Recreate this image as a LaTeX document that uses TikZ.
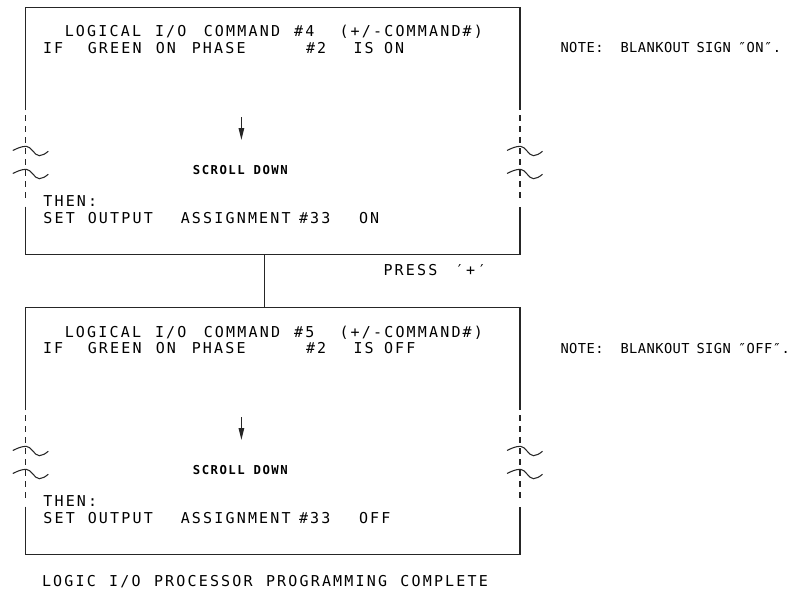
\documentclass[tikz,border=0pt]{standalone}
\usepackage{fontspec}
\usetikzlibrary{arrows.meta}
\newfontfamily\boxf[LetterSpace=14.5]{DejaVu Sans Mono}
\newfontfamily\notef[LetterSpace=3.3]{DejaVu Sans Mono}
\newfontfamily\scrf[LetterSpace=12]{DejaVu Sans Mono}
\tikzset{
  frame/.style={line width=1.15pt, draw=black!85},
  btxt/.style={anchor=base west, inner sep=0pt, outer sep=0pt, text=black, font=\boxf\fontsize{15}{17}\selectfont},
  ntxt/.style={btxt, font=\notef\fontsize{13.7}{15}\selectfont},
  stxt/.style={anchor=base, inner sep=0pt, outer sep=0pt, text=black, font=\scrf\bfseries\fontsize{12.3}{14}\selectfont},
  wave/.style={line width=1.05pt, draw=black!85},
}
\newcommand\bw[4]{\node[btxt] (#1) at ({#2},{#3}) {#4};}
\newcommand\nw[4]{\node[ntxt] (#1) at ({#2},{#3}) {#4};}
\newcommand\wv[2]{\draw[wave] ({#1-13},{#2-0.5}) sin ({#1+0.5},{#2-4.7}) cos ({#1+7},{#2}) sin ({#1+13.5},{#2+4.7}) cos ({#1+22.5},{#2+0.3});}
\begin{document}
\begin{tikzpicture}[x=1pt,y=-1pt]
\fill[white] (0,0) rectangle (801,602);
\useasboundingbox (0,0) rectangle (801,602);
\foreach \o/\k/\cmd/\st in {0/1/4/ON,300/2/5/OFF}{
  \draw[frame] (25.8,{110+\o}) -- (25.8,{7.3+\o}) -- (520,{7.3+\o}) -- (520,{110+\o});
  \draw[frame] (25.8,{206.7+\o}) -- (25.8,{254.7+\o}) -- (520,{254.7+\o}) -- (520,{206.7+\o});
  \draw[frame, dash pattern=on 6pt off 5pt] (25.8,{115+\o}) -- (25.8,{198+\o});
  \draw[frame, dash pattern=on 6pt off 5pt] (520,{115+\o}) -- (520,{198+\o});
  \wv{25.8}{151+\o}
  \wv{25.8}{174+\o}
  \wv{520}{151+\o}
  \wv{520}{174+\o}
  \coordinate (as\k) at (241.4,{117+\o});
  \coordinate (ae\k) at (241.4,{140+\o});
  \draw[frame, -{Triangle[length=12pt,width=5.5pt]}] (as\k) -- (ae\k);
  \bw{ta\k}{64.8}{37+\o}{LOGICAL}
  \bw{tb\k}{155}{37+\o}{I/O}
  \bw{tc\k}{203.8}{37+\o}{COMMAND}
  \bw{td\k}{294.2}{37+\o}{\#\cmd}
  \bw{te\k}{339.5}{37+\o}{(+/-COMMAND\#)}
  \bw{ia\k}{43}{53.5+\o}{IF}
  \bw{ib\k}{87.8}{53.5+\o}{GREEN}
  \bw{ic\k}{155.8}{53.5+\o}{ON}
  \bw{id\k}{191.8}{53.5+\o}{PHASE}
  \bw{ie\k}{306}{53.5+\o}{\#2}
  \bw{if\k}{353.5}{53.5+\o}{IS}
  \bw{ig\k}{384}{53.5+\o}{\st}
  \node[stxt] (scr\k) at (240.3,{174+\o}) {SCROLL DOWN};
  \bw{th\k}{43.4}{206.5+\o}{THEN:}
  \bw{sa\k}{43.4}{223+\o}{SET}
  \bw{sb\k}{87.8}{223+\o}{OUTPUT}
  \bw{sc\k}{180.8}{223+\o}{ASSIGNMENT}
  \bw{se\k}{299}{223+\o}{\#33}
  \bw{sf\k}{359}{223+\o}{\st}
  \nw{na\k}{560.5}{53+\o}{NOTE:}
  \nw{nb\k}{620.5}{53+\o}{BLANKOUT}
  \nw{nc\k}{696.5}{53+\o}{SIGN}
  \nw{nd\k}{738}{53+\o}{″\st″.}
}
\coordinate (cA) at (264.3,254.7);
\coordinate (cB) at (264.3,307.3);
\draw[frame] (cA) -- (cB);
\node[btxt] (pr) at (383.5,275) {PRESS};
\node[btxt] (pq) at (455,275) {′+′};
\bw{ca}{42}{586}{LOGIC}
\bw{cb}{109.2}{586}{I/O}
\bw{cc}{154}{586}{PROCESSOR}
\bw{cd}{266}{586}{PROGRAMMING}
\bw{ce}{400.4}{586}{COMPLETE}
\end{tikzpicture}
\end{document}
